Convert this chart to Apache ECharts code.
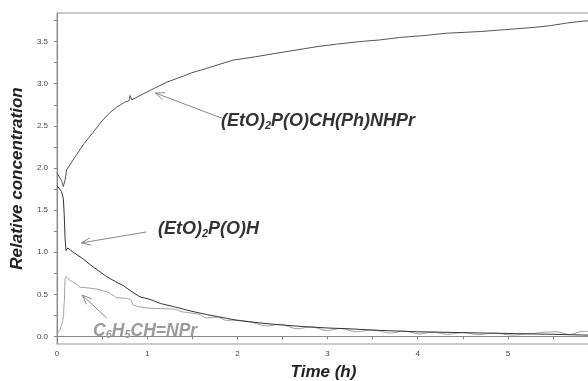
<!DOCTYPE html>
<html>
<head>
<meta charset="utf-8">
<script src="https://cdn.jsdelivr.net/npm/echarts@6/dist/echarts.min.js"></script>
<style>
  html, body { margin: 0; padding: 0; background: #fff; }
  #main { width: 588px; height: 381px; }
</style>
</head>
<body>
<div id="main"></div>
<script>
// (EtO)2P(O)CH(Ph)NHPr  [time h, relative conc.]
const productData = [
  [0, 1.94], [0.02, 1.93], [0.05, 1.85], [0.07, 1.78], [0.09, 1.86], [0.107, 1.98],
  [0.2, 2.13], [0.3, 2.29], [0.42, 2.45], [0.5, 2.56], [0.58, 2.65], [0.66, 2.72],
  [0.75, 2.78], [0.8, 2.8], [0.81, 2.86], [0.83, 2.81], [0.92, 2.86], [1.03, 2.92],
  [1.22, 3.02], [1.4, 3.09], [1.49, 3.13], [1.59, 3.16], [1.8, 3.23], [1.95, 3.28],
  [2.2, 3.32], [2.42, 3.36], [2.65, 3.4], [2.88, 3.44], [3.1, 3.47], [3.35, 3.5],
  [3.58, 3.52], [3.8, 3.55], [4.05, 3.57], [4.32, 3.6], [4.7, 3.62], [5.06, 3.65],
  [5.3, 3.67], [5.47, 3.69], [5.65, 3.72], [5.8, 3.74], [5.91, 3.75]
];
// (EtO)2P(O)H
const phosphiteData = [
  [0, 1.79], [0.02, 1.78], [0.05, 1.72], [0.07, 1.64], [0.08, 1.45], [0.09, 1.15],
  [0.1, 1.02], [0.12, 1.05], [0.14, 1.07], [0.18, 1.0], [0.29, 0.92], [0.37, 0.85],
  [0.46, 0.78], [0.55, 0.71], [0.65, 0.65], [0.74, 0.6], [0.83, 0.53], [0.92, 0.47],
  [1.03, 0.44], [1.15, 0.39], [1.29, 0.355], [1.45, 0.31], [1.55, 0.285], [1.66, 0.26],
  [1.78, 0.235], [1.88, 0.215], [2.0, 0.19], [2.25, 0.16], [2.5, 0.135], [2.75, 0.115],
  [3.0, 0.1], [3.25, 0.09], [3.5, 0.075], [3.75, 0.065], [4.0, 0.055], [4.5, 0.045],
  [5.0, 0.035], [5.5, 0.025], [5.91, 0.015]
];
// C6H5CH=NPr
const imineData = [
  [0, 0.03], [0.03, 0.07], [0.05, 0.13], [0.07, 0.22], [0.08, 0.4], [0.09, 0.68],
  [0.1, 0.71], [0.15, 0.66], [0.2, 0.63], [0.255, 0.585], [0.35, 0.575], [0.45, 0.56],
  [0.55, 0.53], [0.62, 0.49], [0.66, 0.46], [0.72, 0.455], [0.78, 0.45], [0.81, 0.44],
  [0.85, 0.37], [0.92, 0.35], [1.03, 0.335], [1.15, 0.33], [1.29, 0.325], [1.4, 0.29],
  [1.47, 0.28], [1.55, 0.27], [1.66, 0.22], [1.78, 0.23], [1.88, 0.19], [2.0, 0.195],
  [2.1, 0.18], [2.32, 0.125], [2.48, 0.145], [2.66, 0.09], [2.82, 0.115], [2.99, 0.07],
  [3.15, 0.095], [3.32, 0.055], [3.5, 0.078], [3.69, 0.04], [3.85, 0.063], [4.02, 0.03],
  [4.17, 0.052], [4.33, 0.025], [4.5, 0.046], [4.67, 0.02], [4.85, 0.04], [5.06, 0.015],
  [5.25, 0.032], [5.4, 0.05], [5.54, 0.055], [5.68, 0.022], [5.83, 0.06], [5.91, 0.06]
];

const yTickLabels = [0, 0.5, 1, 1.5, 2, 2.5, 3, 3.5];
const yTicks = [0, 0.25, 0.5, 0.75, 1, 1.25, 1.5, 1.75, 2, 2.25, 2.5, 2.75, 3, 3.25, 3.5, 3.75];
const xTickLabels = [0, 1, 2, 3, 4, 5];
const xTicks = [0, 0.5, 1, 1.5, 2, 2.5, 3, 3.5, 4, 4.5, 5, 5.5];

// arrows: [tail, tip] in data units
const arrows = [
  [[1.83, 2.59], [1.09, 2.89]],
  [[0.99, 1.24], [0.27, 1.11]],
  [[0.55, 0.22], [0.28, 0.49]]
];

const chart = echarts.init(document.getElementById('main'));
const font = 'Liberation Sans, Arial, sans-serif';

const option = {
  animation: false,
  backgroundColor: '#fff',
  grid: {
    left: 57, top: 13, right: -2, bottom: 37,
    outerBoundsMode: 'none', containLabel: false,
    show: true, borderColor: '#999', borderWidth: 1
  },
  xAxis: {
    type: 'value', min: 0, max: 5.91,
    name: 'Time (h)', nameLocation: 'middle', nameGap: 20,
    nameTextStyle: { fontFamily: font, fontSize: 17, fontWeight: 'bold', fontStyle: 'italic', color: '#222' },
    axisLine: { lineStyle: { color: '#888' } },
    axisTick: { customValues: xTicks, length: 3, lineStyle: { color: '#888' } },
    axisLabel: { customValues: xTickLabels, fontFamily: font, fontSize: 8, color: '#444', margin: 6 },
    splitLine: { show: false }
  },
  yAxis: {
    type: 'value', min: -0.09, max: 3.84,
    name: 'Relative concentration', nameLocation: 'middle', nameGap: 30, nameRotate: 90,
    nameTextStyle: { fontFamily: font, fontSize: 17, fontWeight: 'bold', fontStyle: 'italic', color: '#222' },
    axisLine: { show: true, lineStyle: { color: '#888' } },
    axisTick: { show: true, customValues: yTicks, length: 3, lineStyle: { color: '#888' } },
    axisLabel: {
      customValues: yTickLabels, fontFamily: font, fontSize: 8, color: '#444', margin: 9,
      formatter: v => v.toFixed(1)
    },
    splitLine: { show: false }
  },
  series: [
    {
      name: 'product', type: 'line', data: productData, showSymbol: false,
      lineStyle: { color: '#555', width: 1 }, z: 3
    },
    {
      name: 'phosphite', type: 'line', data: phosphiteData, showSymbol: false,
      lineStyle: { color: '#333', width: 1 }, z: 3
    },
    {
      name: 'imine', type: 'line', data: imineData, showSymbol: false,
      smooth: 0.3, smoothMonotone: 'x',
      lineStyle: { color: '#a0a0a0', width: 1 }, z: 2
    }
  ]
};
chart.setOption(option);

// annotation labels with subscripts
function label(x, y, parts, size, color) {
  const sub = Math.round(size * 0.62);
  const rich = {
    n: { fontFamily: font, fontSize: size, fontWeight: 'bold', fontStyle: 'italic', fill: color, lineHeight: size + 2 },
    s: { fontFamily: font, fontSize: sub, fontWeight: 'bold', fontStyle: 'italic', fill: color,
         lineHeight: sub, verticalAlign: 'bottom' }
  };
  const text = parts.map(p => p[1] ? '{s|' + p[0] + '}' : '{n|' + p[0] + '}').join('');
  return { type: 'text', x: x, y: y, z: 10, style: { text: text, rich: rich, verticalAlign: 'middle', fill: color } };
}

const graphics = [
  label(221, 121, [['(EtO)'], ['2', 1], ['P(O)CH(Ph)NHPr']], 18, '#333'),
  label(158, 229, [['(EtO)'], ['2', 1], ['P(O)H']], 18, '#333'),
  label(93, 331, [['C'], ['6', 1], ['H'], ['5', 1], ['CH=NPr']], 17.5, '#9a9a9a')
];

arrows.forEach(a => {
  const s = chart.convertToPixel({ gridIndex: 0 }, a[0]);
  const t = chart.convertToPixel({ gridIndex: 0 }, a[1]);
  const dx = s[0] - t[0], dy = s[1] - t[1];
  const len = Math.hypot(dx, dy);
  const ux = dx / len, uy = dy / len;
  const ang = 22 * Math.PI / 180, L = 10;
  const arm = sgn => [
    t[0] + L * (ux * Math.cos(sgn * ang) - uy * Math.sin(sgn * ang)),
    t[1] + L * (ux * Math.sin(sgn * ang) + uy * Math.cos(sgn * ang))
  ];
  graphics.push({ type: 'line', z: 10, shape: { x1: s[0], y1: s[1], x2: t[0], y2: t[1] }, style: { stroke: '#888', lineWidth: 1 } });
  graphics.push({ type: 'polyline', z: 10, shape: { points: [arm(1), t, arm(-1)] }, style: { stroke: '#888', lineWidth: 1, fill: null } });
});

chart.setOption({ graphic: graphics });
</script>
</body>
</html>
